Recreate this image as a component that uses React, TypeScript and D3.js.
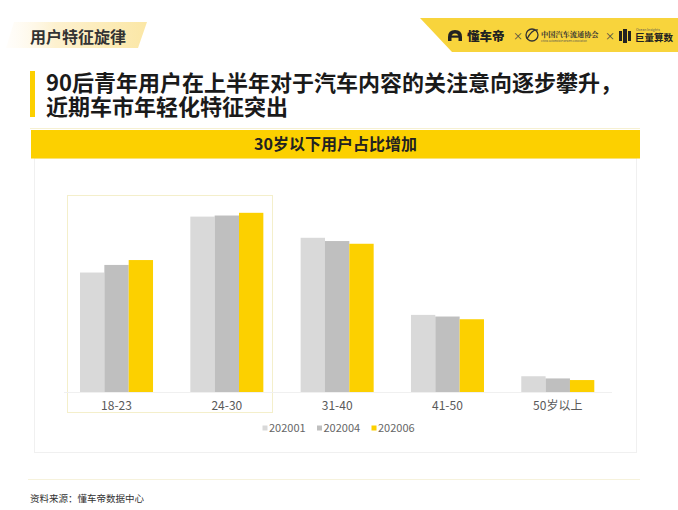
import React from "react";
import * as d3 from "d3";

const categories = ["18-23", "24-30", "31-40", "41-50", "50岁以上"];
const seriesNames = ["202001", "202004", "202006"];
const s202001 = [22.0, 32.3, 28.4, 14.2, 2.9];
const s202004 = [23.4, 32.5, 27.8, 13.9, 2.5];
const s202006 = [24.3, 33.0, 27.3, 13.4, 2.2];
const seriesValues = [s202001, s202004, s202006];
const colors = ["#d9d9d9", "#bfbfbf", "#fcd000"];

const FONT = "'Noto Sans CJK SC', 'Noto Sans', sans-serif";

export default function App() {
  const W = 678;
  const H = 510;
  const baseY = 392;
  const x0 = d3
    .scaleBand<string>()
    .domain(categories)
    .range([80, 594.3])
    .paddingInner(0.338)
    .paddingOuter(0);
  const x1 = d3
    .scaleBand<string>()
    .domain(seriesNames)
    .range([0, x0.bandwidth()])
    .padding(0);
  const y = d3.scaleLinear().domain([0, 35]).range([baseY, baseY - 35 * 5.43]);

  const legendX = [262.5, 317, 371.5];

  return (
    <svg
      width={W}
      height={H}
      viewBox={`0 0 ${W} ${H}`}
      style={{ position: "absolute", left: 0, top: 0, background: "#ffffff" }}
      fontFamily={FONT}
    >
      <defs>
        <linearGradient id="tagGrad" x1="0" x2="1" y1="0" y2="0">
          <stop offset="0" stopColor="#fffaf0" stopOpacity="0.3" />
          <stop offset="0.35" stopColor="#fdf1cf" />
          <stop offset="1" stopColor="#fbe7a6" />
        </linearGradient>
      </defs>
      <rect x={0} y={0} width={W} height={H} fill="#ffffff" />

      {/* top-left tag */}
      <polygon points="14,22 147,22 138,48 6,48" fill="url(#tagGrad)" />
      <text x={30} y={43} fontSize={16} fontWeight={700} fill="#333333">
        用户特征旋律
      </text>

      {/* top-right logo tag */}
      <polygon points="420,18 678,18 678,52 452,52" fill="#f8d43c" />
      <g transform="translate(448,36)">
        <path
          d="M0,5 L0,1 Q0,-6 7,-6 Q14,-6 14,1 L14,5 L10.5,5 L10.5,1.5 Q10.5,-2.5 7,-2.5 Q3.5,-2.5 3.5,1.5 L3.5,5 Z"
          fill="#222"
        />
        <rect x={3} y={-0.5} width={8} height={2.2} fill="#222" />
      </g>
      <text x={467} y={40.5} fontSize={12.5} fontWeight={900} fill="#222">
        懂车帝
      </text>
      <text x={513} y={40} fontSize={10} fill="#444">
        ×
      </text>
      <g transform="translate(532,35)">
        <circle cx={0} cy={0} r={6} fill="none" stroke="#333" strokeWidth={1.3} />
        <path d="M-5,4 Q0,-6 6,-5" fill="none" stroke="#333" strokeWidth={1.2} />
      </g>
      <text x={541} y={36.5} fontSize={7.2} fontWeight={700} fill="#333" fontFamily="'Noto Serif CJK SC', 'Noto Sans CJK SC', serif">
        中国汽车流通协会
      </text>
      <text x={541} y={41.5} fontSize={2.6} fill="#555">
        China Automobile Dealers Association
      </text>
      <text x={605} y={40} fontSize={10} fill="#444">
        ×
      </text>
      <g transform="translate(619,29)">
        <rect x={0} y={2} width={3} height={10} fill="#222" />
        <rect x={9} y={2} width={3} height={10} fill="#222" />
        <rect x={4} y={0} width={4} height={14} fill="#222" />
      </g>
      <text x={636} y={30.5} fontSize={3.5} fill="#555">
        Ocean Insights
      </text>
      <text x={635} y={41} fontSize={9.5} fontWeight={700} fill="#222">
        巨量算数
      </text>

      {/* main title */}
      <rect x={30} y={71} width={5} height={46} fill="#fcd000" />
      <text fontSize={22} fontWeight={700} fill="#1a1a1a">
        <tspan x={46} y={90.5}>
          90后青年用户在上半年对于汽车内容的关注意向逐步攀升，
        </tspan>
        <tspan x={46} y={115}>
          近期车市年轻化特征突出
        </tspan>
      </text>
      <line x1={30} x2={640} y1={128.5} y2={128.5} stroke="#f6f0d2" strokeWidth={1} />

      {/* chart panel */}
      <rect x={34.5} y={158} width={602} height={294.5} fill="#ffffff" stroke="#f0f0f0" strokeWidth={1} />
      <rect x={31} y={130} width={609} height={28.5} fill="#fcd000" />
      <text x={335.5} y={149.5} fontSize={16} fontWeight={700} fill="#222" textAnchor="middle">
        30岁以下用户占比增加
      </text>

      {/* highlight box */}
      <rect x={67.5} y={195.5} width={205} height={217} fill="none" stroke="#f4efcb" strokeWidth={1} />

      {/* baseline */}
      <line x1={64} x2={612} y1={baseY + 0.5} y2={baseY + 0.5} stroke="#f0f0f0" strokeWidth={1} />

      {/* bars */}
      {categories.map((c, ci) => (
        <g key={c} transform={`translate(${x0(c)},0)`}>
          {seriesNames.map((s, si) => (
            <rect
              key={s}
              x={x1(s)}
              y={y(seriesValues[si][ci])}
              width={x1.bandwidth()}
              height={baseY - y(seriesValues[si][ci])}
              fill={colors[si]}
            />
          ))}
        </g>
      ))}

      {/* category labels */}
      {categories.map((c) => (
        <text
          key={c}
          x={(x0(c) ?? 0) + x0.bandwidth() / 2}
          y={410}
          fontSize={12}
          fill="#595959"
          textAnchor="middle"
        >
          {c}
        </text>
      ))}

      {/* legend */}
      {seriesNames.map((s, i) => (
        <g key={s}>
          <rect x={legendX[i]} y={425.5} width={5} height={5} fill={colors[i]} />
          <text x={legendX[i] + 6.5} y={432} fontSize={11} fill="#666666">
            {s}
          </text>
        </g>
      ))}

      {/* footer */}
      <line x1={28} x2={640} y1={479.5} y2={479.5} stroke="#f6f2dc" strokeWidth={1} />
      <text x={30} y={502} fontSize={9.5} fill="#333">
        资料来源：懂车帝数据中心
      </text>
    </svg>
  );
}
